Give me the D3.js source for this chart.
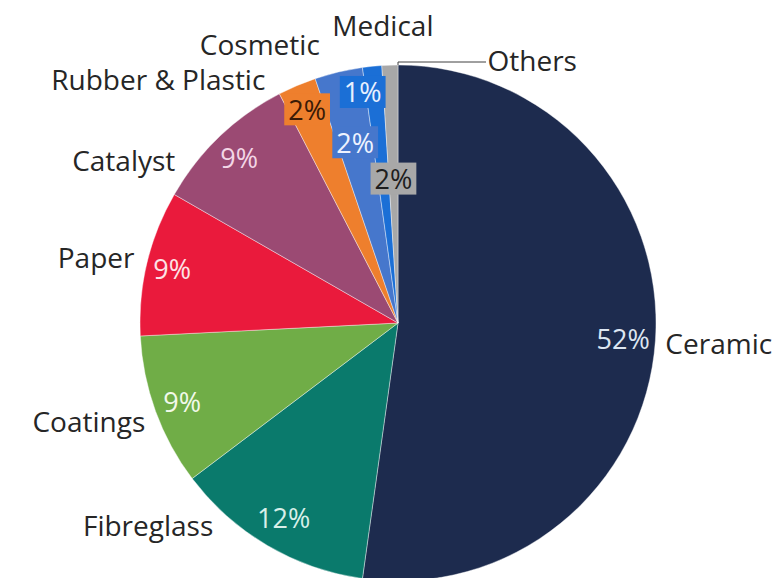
<!DOCTYPE html>
<html>
<head>
<meta charset="utf-8">
<script src="https://cdn.jsdelivr.net/npm/d3@7"></script>
<style>
  body { margin: 0; background: #fff; }
  text { font-family: "Open Sans", sans-serif; }
</style>
</head>
<body>
<script>
width = 780
height = 578

// data, clockwise from 12 o'clock
categories = ["Ceramic", "Fibreglass", "Coatings", "Paper", "Catalyst",
              "Rubber & Plastic", "Cosmetic", "Medical", "Others"]
shares = [52.2, 12.5, 9.5, 9.1, 9.1, 2.4, 3.0, 1.2, 1.0]
pctLabels = ["52%", "12%", "9%", "9%", "9%", "2%", "2%", "1%", "2%"]

colors = ["#1d2b4e", "#0a7a6c", "#70ad47", "#ea1a3c", "#9b4a73",
          "#ee7f2d", "#4677cc", "#1b6fd6", "#a8a8a8"]
pctColors = ["#dde6f2", "#d8efe9", "#f2f9ea", "#fde2e6", "#f3d6e6",
             "#3a1a06", "#eef3ff", "#e8f0ff", "#1e1e1e"]
boxed = [false, false, false, false, false, true, true, true, true]

// label placement tweaks (radius fraction, nudges)
pctRadius = [0.875, 0.875, 0.89, 0.9, 0.89, 0.9, 0.72, 0.9, 0.56]
pctNudge = [[0, 0], [0, 0], [0, 0], [0, 0], [0, 0], [0, 0], [0, 0], [-12, 0], [0, 0]]
catNudge = [[-2, 1], [-48, -31], [1, 6], [-1, -3], [-36, 32], [-27, 4], [-16, -16], [12, -29], [98, 7]]
catAnchor = ["start", "end", "end", "end", "end", "end", "end", "middle", "start"]

cx = 398
cy = 323
radius = 258

svg = d3.select("body")
    .append("svg")
    .attr("width", width)
    .attr("height", height)

g = svg.append("g")
    .attr("transform", "translate(" + cx + "," + cy + ")")

pie = d3.pie().sort(null).value(function(d) { return d; })
arcs = pie(shares)

arc = d3.arc().innerRadius(0).outerRadius(radius)

g.selectAll("path.slice")
    .data(arcs)
    .enter()
    .append("path")
    .attr("class", "slice")
    .attr("d", arc)
    .attr("fill", function(d, i) { return colors[i]; })
    .attr("stroke", "rgba(255,255,255,0.5)")
    .attr("stroke-width", 0.8)

function midAngle(d) { return (d.startAngle + d.endAngle) / 2; }

// leader line for Others
lineR = radius + 3
g.append("polyline")
    .attr("points", [
        [0, -radius], [0, -lineR], [88, -lineR]
    ].map(function(p) { return p.join(","); }).join(" "))
    .attr("fill", "none")
    .attr("stroke", "#404040")
    .attr("stroke-width", 1)

// percentage labels
pctG = g.selectAll("g.pct")
    .data(arcs)
    .enter()
    .append("g")
    .attr("class", "pct")
    .attr("transform", function(d, i) {
        a = midAngle(d)
        r = radius * pctRadius[i]
        x = Math.sin(a) * r + pctNudge[i][0]
        y = -Math.cos(a) * r + pctNudge[i][1]
        return "translate(" + x + "," + y + ")"
    })

pctG.append("text")
    .attr("text-anchor", "middle")
    .attr("dominant-baseline", "central")
    .attr("font-size", 27)
    .attr("fill", function(d, i) { return pctColors[i]; })
    .text(function(d, i) { return pctLabels[i]; })

pctG.each(function(d, i) {
    if (!boxed[i]) return
    t = d3.select(this).select("text")
    b = t.node().getBBox()
    d3.select(this).insert("rect", "text")
        .attr("x", b.x - 4)
        .attr("y", -16)
        .attr("width", b.width + 8)
        .attr("height", 32)
        .attr("fill", colors[i])
})

// category labels
g.selectAll("text.cat")
    .data(arcs)
    .enter()
    .append("text")
    .attr("class", "cat")
    .attr("x", function(d, i) { return Math.sin(midAngle(d)) * (radius + 12) + catNudge[i][0]; })
    .attr("y", function(d, i) { return -Math.cos(midAngle(d)) * (radius + 12) + catNudge[i][1]; })
    .attr("text-anchor", function(d, i) { return catAnchor[i]; })
    .attr("dominant-baseline", "central")
    .attr("font-size", 28)
    .attr("fill", "#262626")
    .text(function(d, i) { return categories[i]; })
</script>
</body>
</html>
